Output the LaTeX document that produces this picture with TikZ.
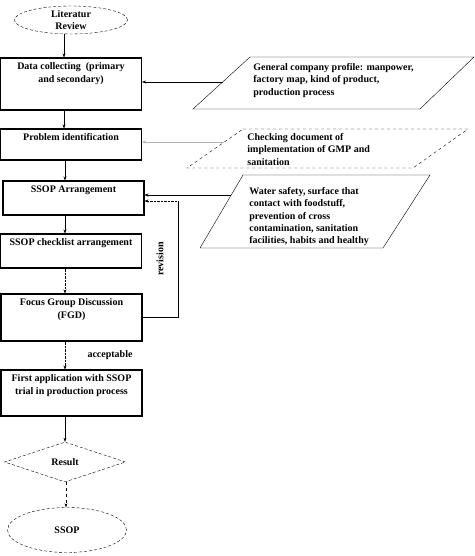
\documentclass[tikz,border=0pt]{standalone}
\usepackage{fontspec}
\setmainfont{Liberation Serif}
\usetikzlibrary{arrows.meta,shapes.geometric}

\begin{document}
\begin{tikzpicture}[x=1pt,y=-1pt,thick,
  font=\bfseries\fontsize{10}{12.3}\selectfont,
  >={Stealth[length=4pt,width=3pt]},
  box/.style={draw, line width=1.1pt, rectangle, inner sep=0pt, minimum width=141},
  boxtext/.style={anchor=north, align=center, inner sep=0pt, yshift=-5pt},
  term/.style={draw, densely dashed, thin, ellipse, inner sep=0pt, align=center},
  ptext/.style={anchor=north west, align=left, inner sep=0pt},
  flow/.style={thin, ->}]
\useasboundingbox (0,0) rectangle (474,556);

% main flow
\node[term, minimum width=113, minimum height=28] (lit) at (71,20) {Literatur\\Review};
\node[box, minimum height=52, label={[boxtext]north:{Data collecting\enspace(primary\\and secondary)}}] (data) at (71,84) {};
\node[box, minimum height=31, label={[boxtext]north:{Problem identification}}] (prob) at (71,144.5) {};
\node[box, minimum height=34, label={[boxtext]north:{SSOP Arrangement}}] (arr) at (73.5,198) {};
\node[box, minimum height=34, label={[boxtext]north:{SSOP checklist arrangement}}] (check) at (71,251) {};
\node[box, minimum height=47, label={[boxtext]north:{Focus Group Discussion\\(FGD)}}] (fgd) at (71.5,317.5) {};
\node[box, minimum height=46, label={[boxtext]north:{First application with SSOP\\trial in production process}}] (first) at (71.5,393) {};
\node[draw, densely dashed, thin, diamond, aspect=3, inner sep=0pt, minimum width=121, minimum height=40] (result) at (65,462) {Result};
\node[term, minimum width=119, minimum height=45] (ssop) at (67,530) {SSOP};

\draw[flow] (lit.south) ++(-7,0) coordinate (l1) -- (l1 |- data.north);
\draw[flow] (data.south) ++(-7,0) coordinate (d1) -- (d1 |- prob.north);
\draw[flow] (prob.south) ++(-6,0) coordinate (p1) -- (p1 |- arr.north);
\draw[flow] (arr.south) ++(-8.5,0) coordinate (a1) -- (a1 |- check.north);
\draw[flow, densely dotted] (check.south) ++(-6,0) coordinate (c1) -- (c1 |- fgd.north);
\draw[flow, densely dotted] (fgd.south) ++(-6.5,0) coordinate (f1) -- (f1 |- first.north);
\draw[flow] (first.south) ++(-6.5,0) coordinate (s1) -- (s1 |- result.north);
\draw[flow, dashed] (result.south) ++(1,0) coordinate (r1) -- (r1 |- ssop.north);

\node[inner sep=0pt] (ok) at (110,355) {acceptable};

% revision loop
\coordinate (rev) at (178,201);
\draw[thin] (fgd.east) -| (rev);
\draw[flow, densely dotted] (rev) -- (rev -| arr.east);
\node[rotate=90, inner sep=0pt] (revlabel) at (160,259) {revision};

% inputs
\draw[thin] (250,57) -- (474,57) -- (420,109) -- (193,109) -- cycle;
\node[ptext] (in1) at (253,63) {General company profile: manpower,\\factory map, kind of product,\\production process};
\draw[thin, dashed] (243,129) -- (468,129) -- (413,168) -- (187,168) -- cycle;
\node[ptext] (in2) at (247,133) {Checking document of\\implementation of GMP and\\sanitation};
\draw[thin] (243,175) -- (430,175) -- (383,248) -- (200,248) -- cycle;
\node[ptext] (in3) at (249,187) {Water safety, surface that\\contact with foodstuff,\\prevention of cross\\contamination, sanitation\\facilities, habits and healthy};

\coordinate (e1) at (223,82);
\coordinate (e2) at (224,142);
\coordinate (e3) at (231,195);
\draw[flow] (e1) -- (e1 -| data.east);
\draw[flow, black!30] (e2) -- (e2 -| prob.east);
\draw[flow] (e3) -- (e3 -| arr.east);
\end{tikzpicture}
\end{document}
